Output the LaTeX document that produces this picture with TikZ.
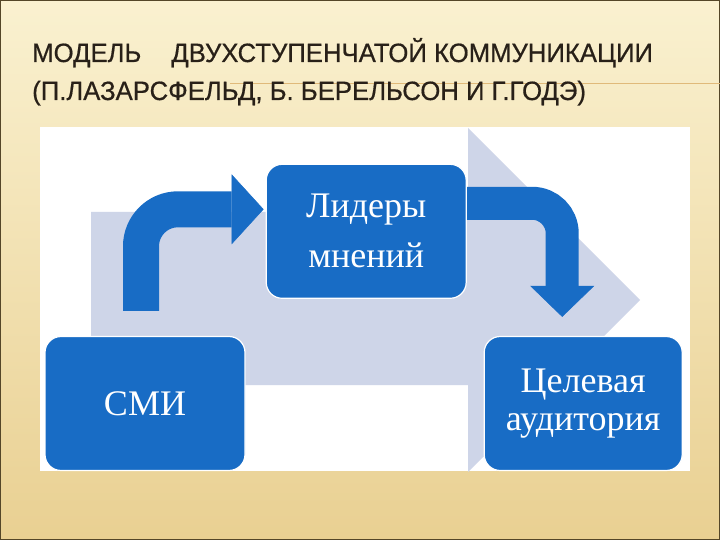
\documentclass[tikz,border=0pt]{standalone}
\usepackage{fontspec}
\setmainfont{Liberation Serif}
\newfontfamily\titlefont[FakeStretch=0.97, FakeBold=0.6]{Liberation Sans}
\usepackage{tikz}
\usetikzlibrary{arrows.meta, positioning, calc}
\definecolor{page_top}{RGB}{250,241,208}
\definecolor{page_bottom}{RGB}{233,208,146}
\definecolor{page_edge}{RGB}{84,70,40}
\definecolor{rule_tan}{RGB}{224,186,122}
\definecolor{title_ink}{RGB}{40,32,24}
\definecolor{box_blue}{RGB}{24,108,197}
\definecolor{band_grey}{RGB}{206,213,232}
\tikzset{
  title_style/.style={anchor=base west, inner sep=0pt, text=title_ink, font=\titlefont\fontsize{26.5}{30}\selectfont},
  step_box/.style={rectangle, draw=white, line width=1.2pt, fill=box_blue, rounded corners=16pt, minimum width=200pt, minimum height=134pt, align=center, text=white, font=\fontsize{36}{50}\selectfont},
  bent_arrow/.style={draw=box_blue, line cap=butt},
  band/.style={fill=band_grey},
  panel/.style={fill=white}
}
\pgfdeclarelayer{bandlayer}
\pgfdeclarelayer{arrowlayer}
\pgfsetlayers{bandlayer, arrowlayer, main}

\begin{document}
\begin{tikzpicture}[x=1pt, y=-1pt]
\useasboundingbox (0,0) rectangle (720,540);

    % Page
    \begin{pgfonlayer}{bandlayer}
    \shade[top color=page_top, bottom color=page_bottom] (0,0) rectangle (720,540);
    \draw[page_edge, line width=2pt] (0,0) rectangle (720,540);
    \draw[rule_tan, line width=1pt] (230,84) -- (720,84);
    \fill[panel] (40,127) rectangle (690,471);
    \fill[band] (91,212) -- (468,212) -- (468,128) -- (640,300) -- (468,472) -- (468,385) -- (91,385) -- cycle;
    \end{pgfonlayer}

    % Title
    \node (title_a) [title_style] at (32,62) {МОДЕЛЬ\hspace{30pt}ДВУХСТУПЕНЧАТОЙ КОММУНИКАЦИИ};
    \node (title_b) [title_style] at (32,100) {(П.ЛАЗАРСФЕЛЬД, Б. БЕРЕЛЬСОН И Г.ГОДЭ)};

    % Steps
    \node (smi) [step_box] at (145,403.5) {СМИ};
    \node (lid) [step_box, above right=37pt and 20pt of smi] {Лидеры\\мнений};
    \node (cel) [step_box, right=238pt of smi, minimum width=198pt, font=\fontsize{36}{38}\selectfont] {Целевая\\аудитория};

    % Connections
    \begin{pgfonlayer}{arrowlayer}
    \draw [bent_arrow, line width=36pt, rounded corners=37pt, -{Triangle[length=32pt, width=70pt, line width=0.5pt]}]
        ([xshift=-4pt, yshift=25pt]smi.north) |- ([xshift=-2pt, yshift=22pt]lid.west);
    \draw [bent_arrow, line width=33pt, rounded corners=30pt, -{Triangle[length=31pt, width=64pt, line width=0.5pt]}]
        ([yshift=28pt]lid.east) -| ([xshift=-21pt, yshift=19pt]cel.north);
    \end{pgfonlayer}
\end{tikzpicture}
\end{document}
